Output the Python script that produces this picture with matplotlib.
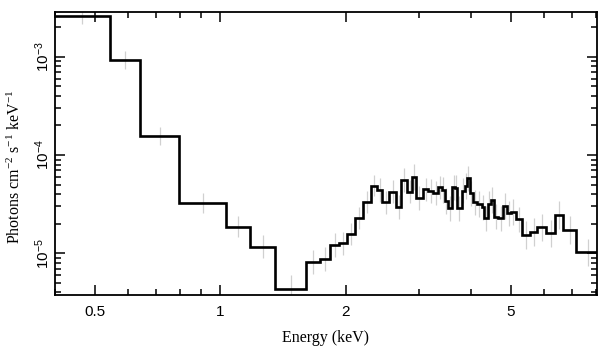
# Unfolded X-ray spectrum: step model with faint data error bars

import numpy as np
import matplotlib
matplotlib.use("Agg")
import matplotlib.pyplot as plt
from matplotlib.ticker import FixedLocator, FixedFormatter, LogLocator, NullFormatter

# bin edges in keV
edges = [0.40, 0.542, 0.640, 0.796, 1.032, 1.179, 1.352, 1.609, 1.732, 1.838,
         1.928, 2.018, 2.103, 2.203, 2.298, 2.376, 2.453, 2.544, 2.651, 2.726,
         2.803, 2.897, 2.951, 3.072, 3.159, 3.248, 3.339, 3.403, 3.466, 3.518,
         3.609, 3.664, 3.710, 3.802, 3.873, 3.909, 3.981, 4.041, 4.132, 4.248,
         4.303, 4.407, 4.466, 4.548, 4.658, 4.788, 4.879, 4.990, 5.138, 5.304,
         5.554, 5.784, 6.069, 6.380, 6.681, 7.170, 8.20]

# photons cm^-2 s^-1 keV^-1 per bin
flux = [2.60e-3, 9.19e-4, 1.56e-4, 3.23e-5, 1.87e-5, 1.17e-5, 4.34e-6, 8.21e-6,
        8.75e-6, 1.21e-5, 1.26e-5, 1.57e-5, 2.30e-5, 3.35e-5, 4.88e-5, 4.41e-5,
        3.30e-5, 4.24e-5, 2.94e-5, 5.57e-5, 4.24e-5, 6.01e-5, 3.63e-5, 4.48e-5,
        4.31e-5, 4.13e-5, 4.69e-5, 4.41e-5, 3.40e-5, 2.87e-5, 4.69e-5, 4.62e-5,
        2.87e-5, 4.34e-5, 4.84e-5, 5.80e-5, 4.08e-5, 3.30e-5, 3.17e-5, 2.94e-5,
        2.27e-5, 3.17e-5, 3.48e-5, 2.36e-5, 2.27e-5, 3.03e-5, 2.55e-5, 2.65e-5,
        2.22e-5, 1.54e-5, 1.64e-5, 1.84e-5, 1.60e-5, 2.45e-5, 1.73e-5, 1.02e-5]

# rough half-size of the gray error bars, in dex
err_dex = [0.08, 0.09, 0.09, 0.10, 0.11, 0.12, 0.14, 0.12, 0.12, 0.12,
           0.12, 0.11, 0.11, 0.11, 0.11, 0.12, 0.12, 0.12, 0.12, 0.12,
           0.12, 0.13, 0.12, 0.12, 0.12, 0.12, 0.12, 0.13, 0.13, 0.13,
           0.13, 0.13, 0.13, 0.13, 0.13, 0.13, 0.13, 0.13, 0.13, 0.13,
           0.13, 0.13, 0.13, 0.13, 0.13, 0.13, 0.13, 0.13, 0.13, 0.14,
           0.14, 0.14, 0.14, 0.14, 0.14, 0.14]

xticks = [0.5, 1, 2, 5]
xticklabels = ["0.5", "1", "2", "5"]
yticks = [1e-5, 1e-4, 1e-3]
yticklabels = [r"$\mathsf{10^{-5}}$", r"$\mathsf{10^{-4}}$", r"$\mathsf{10^{-3}}$"]

plt.rcParams["font.family"] = ["Liberation Sans", "DejaVu Sans"]
plt.rcParams["mathtext.fontset"] = "custom"
plt.rcParams["mathtext.rm"] = "Liberation Serif"
plt.rcParams["mathtext.it"] = "Liberation Serif:italic"
plt.rcParams["mathtext.sf"] = "Liberation Sans"

edges_a = np.array(edges)
flux_a = np.array(flux)
err_a = np.array(err_dex)
centers = np.sqrt(edges_a[:-1] * edges_a[1:])
lo = flux_a - flux_a * 10 ** (-err_a)
hi = flux_a * 10 ** err_a - flux_a
xlo = centers - edges_a[:-1]
xhi = edges_a[1:] - centers

fig = plt.figure(figsize=(6.09, 3.57), dpi=100)
ax = fig.add_axes([0.0903, 0.1737, 0.8900, 0.7927])

ax.errorbar(centers, flux_a, yerr=[lo, hi], xerr=[xlo, xhi], fmt="none",
            ecolor="#d0d0d0", elinewidth=0.9, zorder=1)
ax.stairs(flux_a, edges_a, color="black", linewidth=1.9, baseline=None, zorder=2)

ax.set_xscale("log")
ax.set_yscale("log")
ax.set_xlim(0.4, 8.05)
ax.set_ylim(3.77e-6, 2.85e-3)

ax.xaxis.set_major_locator(FixedLocator(xticks))
ax.xaxis.set_major_formatter(FixedFormatter(xticklabels))
ax.xaxis.set_minor_locator(LogLocator(base=10, subs=np.arange(2, 10)))
ax.xaxis.set_minor_formatter(NullFormatter())
ax.yaxis.set_major_locator(FixedLocator(yticks))
ax.yaxis.set_major_formatter(FixedFormatter(yticklabels))
ax.yaxis.set_minor_locator(LogLocator(base=10, subs=np.arange(2, 10)))
ax.yaxis.set_minor_formatter(NullFormatter())

ax.tick_params(which="both", direction="in", top=True, right=True, width=1.1)
ax.tick_params(which="major", length=7, labelsize=11)
ax.tick_params(which="minor", length=4)
ax.tick_params(axis="x", pad=7)
ax.tick_params(axis="y", pad=2)
for lab in ax.get_yticklabels():
    lab.set_rotation(90)
    lab.set_va("center")

for sp in ax.spines.values():
    sp.set_linewidth(1.3)

ax.set_xlabel("Energy (keV)", family="Liberation Serif", fontsize=11.5, labelpad=8)
ax.set_ylabel(r"Photons cm$^{-2}$ s$^{-1}$ keV$^{-1}$", family="Liberation Serif",
              fontsize=11.5)
ax.yaxis.set_label_coords(-0.057, 0.452)

fig.savefig("out.png", dpi=100)
